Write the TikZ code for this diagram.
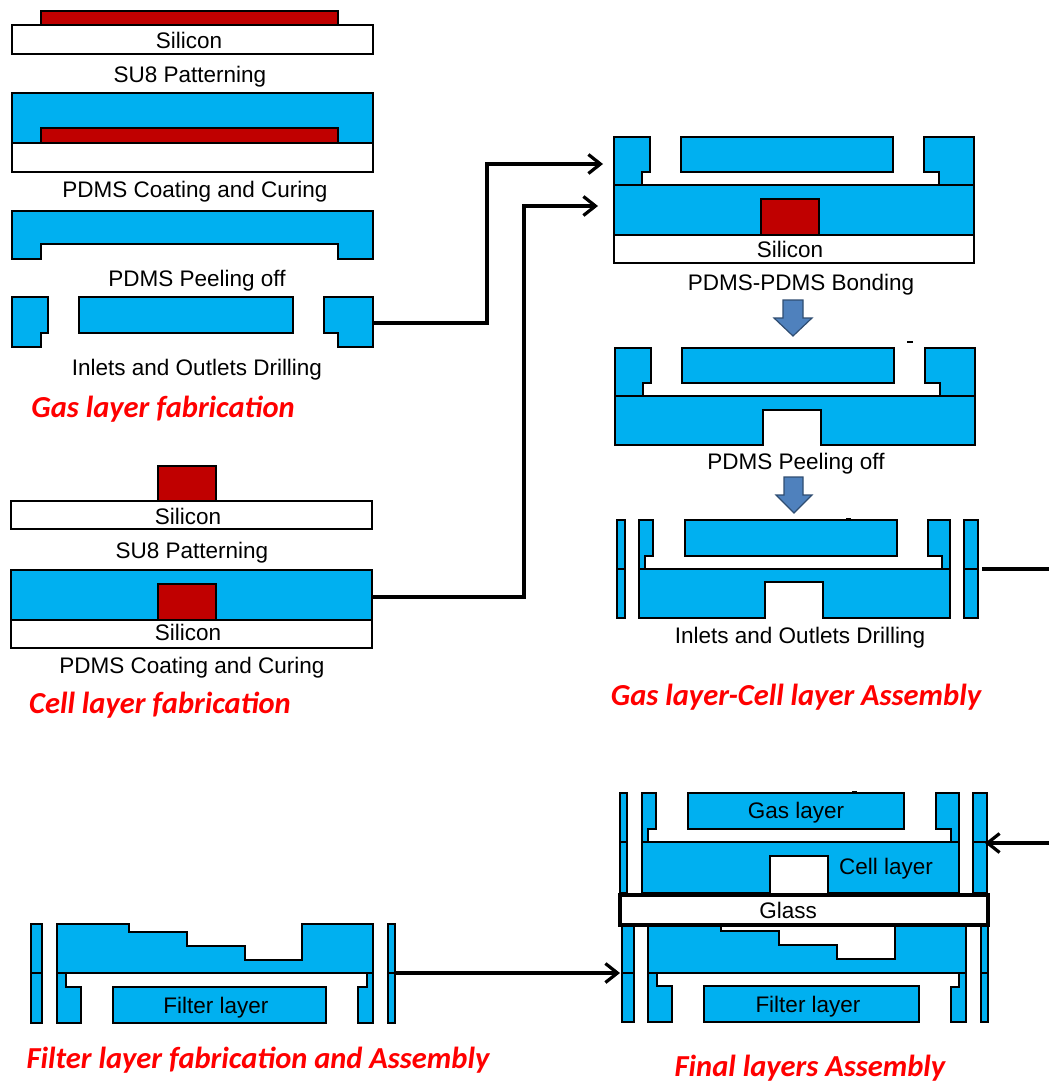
\documentclass[tikz,border=0pt]{standalone}
\usepackage{fontspec}
\setmainfont{Liberation Sans}
\newfontfamily\titlefont{Carlito}
\usetikzlibrary{arrows.meta}
\definecolor{pdmsblue}{HTML}{00B0F0}
\definecolor{sured}{HTML}{C00000}
\definecolor{blockblue}{HTML}{4F81BD}
\tikzset{
  pdms/.style={draw=black, fill=pdmsblue, line width=2.8pt, line join=miter},
  sueight/.style={draw=black, fill=sured, line width=2.8pt},
  wafer/.style={draw=black, fill=white, line width=2.8pt},
  divider/.style={draw=black, line width=2.2pt},
  caption/.style={font=\fontsize{22.5}{24}\selectfont, text=black, inner sep=0pt, yshift=-1.5pt},
  steptitle/.style={font=\titlefont\bfseries\itshape\fontsize{30.5}{32}\selectfont, text=red, inner sep=0pt, yshift=-1.5pt},
  connector/.style={draw=black, line width=3.2pt},
  tipped/.style={connector, -{Straight Barb[length=12pt,width=19pt,line width=3.2pt]}},
  blockarrow/.style={draw=blockblue!60!black, fill=blockblue, line width=1.2pt},
  speck/.style={draw=black, line width=1.6pt},
}
\begin{document}
\begin{tikzpicture}[x=1pt,y=-1pt]
\useasboundingbox (0,0) rectangle (1049,1084);

\draw[sueight] (41,11) rectangle (338,25);
\draw[wafer] (12,25) rectangle (373,54);
\node[caption] (silicona) at (189,39) {Silicon};
\node[caption] (patterninga) at (190,75) {SU8 Patterning};

\draw[pdms] (12,93) rectangle (373,143);
\draw[sueight] (41,128) rectangle (338,143);
\draw[wafer] (12,143) rectangle (373,172);
\node[caption] (coatinga) at (195,190) {PDMS Coating and Curing};

\draw[pdms] (12,211) -- (373,211) -- (373,259) -- (338,259) -- (338,244) -- (41,244) -- (41,259) -- (12,259) -- cycle;
\node[caption] (peelinga) at (197,279) {PDMS Peeling off};

\draw[pdms] (12,297) -- (48,297) -- (48,333) -- (41,333) -- (41,347) -- (12,347) -- cycle;
\draw[pdms] (79,297) rectangle (293,333);
\draw[pdms] (324,297) -- (373,297) -- (373,347) -- (338,347) -- (338,333) -- (324,333) -- cycle;
\node[caption] (drillinga) at (197,368) {Inlets and Outlets Drilling};
\node[steptitle] (gastitle) at (163,408) {Gas layer fabrication};

\draw[sueight] (158,466) rectangle (216,501);
\draw[wafer] (11,501) rectangle (372,529);
\node[caption] (siliconb) at (188,515) {Silicon};
\node[caption] (patterningb) at (192,551) {SU8 Patterning};

\draw[pdms] (11,570) rectangle (372,620);
\draw[sueight] (158,584) rectangle (216,620);
\draw[wafer] (11,620) rectangle (372,648);
\node[caption] (siliconc) at (188,631) {Silicon};
\node[caption] (coatingb) at (192,666) {PDMS Coating and Curing};
\node[steptitle] (celltitle) at (160,704) {Cell layer fabrication};

\draw[pdms] (614,137) -- (650,137) -- (650,172) -- (642,172) -- (642,185) -- (614,185) -- cycle;
\draw[pdms] (681,137) rectangle (893,172);
\draw[pdms] (924,137) -- (974,137) -- (974,185) -- (939,185) -- (939,172) -- (924,172) -- cycle;
\draw[pdms] (614,185) rectangle (974,235);
\draw[sueight] (761,199) rectangle (819,235);
\draw[wafer] (614,235) rectangle (974,263);
\node[caption] (silicond) at (790,248) {Silicon};
\node[caption] (bonding) at (801,283) {PDMS-PDMS Bonding};

\draw[blockarrow] (783,300) -- (803,300) -- (803,318) -- (812,318) -- (793,336) -- (774,318) -- (783,318) -- cycle;
\draw[speck] (907,342) -- (913,342);

\draw[pdms] (615,348) -- (651,348) -- (651,383) -- (643,383) -- (643,396) -- (615,396) -- cycle;
\draw[pdms] (682,348) rectangle (894,383);
\draw[pdms] (925,348) -- (975,348) -- (975,396) -- (940,396) -- (940,383) -- (925,383) -- cycle;
\draw[pdms] (615,396) -- (975,396) -- (975,445) -- (821,445) -- (821,410) -- (763,410) -- (763,445) -- (615,445) -- cycle;
\node[caption] (peelingb) at (796,462) {PDMS Peeling off};

\draw[blockarrow] (784,477) -- (803,477) -- (803,495) -- (812,495) -- (794,513) -- (776,495) -- (784,495) -- cycle;
\draw[speck] (846,518.5) -- (851,518.5);

\draw[pdms] (617,520) rectangle (625,618);
\draw[divider] (617,569) -- (625,569);
\draw[pdms] (639,520) -- (653,520) -- (653,556) -- (645,556) -- (645,569) -- (639,569) -- cycle;
\draw[pdms] (685,520) rectangle (897,556);
\draw[pdms] (928,520) -- (950,520) -- (950,569) -- (942,569) -- (942,556) -- (928,556) -- cycle;
\draw[pdms] (639,569) -- (950,569) -- (950,618) -- (823,618) -- (823,582) -- (765,582) -- (765,618) -- (639,618) -- cycle;
\draw[pdms] (964,520) rectangle (978,618);
\draw[divider] (964,569) -- (978,569);
\node[caption] (drillingb) at (800,636) {Inlets and Outlets Drilling};
\node[steptitle] (assemblytitle) at (796,696) {Gas layer-Cell layer Assembly};

\draw[pdms] (31,924) rectangle (42,1023);
\draw[divider] (31,973) -- (42,973);
\draw[pdms] (57,924) -- (129,924) -- (129,932) -- (187,932) -- (187,946) -- (245,946) -- (245,960) -- (302,960) -- (302,924) -- (373,924) -- (373,973) -- (57,973) -- cycle;
\draw[pdms] (57,973) -- (66,973) -- (66,987) -- (81,987) -- (81,1023) -- (57,1023) -- cycle;
\draw[pdms] (113,987) rectangle (326,1023);
\draw[pdms] (358,1023) -- (358,987) -- (367,987) -- (367,973) -- (373,973) -- (373,1023) -- cycle;
\draw[pdms] (388,924) rectangle (395,1023);
\draw[divider] (388,973) -- (395,973);
\node[caption] (filtera) at (216,1006) {Filter layer};
\node[steptitle] (filtertitle) at (258,1059) {Filter layer fabrication and Assembly};

\draw[speck] (852,791.5) -- (857,791.5);
\draw[pdms] (620,793) rectangle (627,893);
\draw[divider] (620,842) -- (627,842);
\draw[pdms] (642,793) -- (656,793) -- (656,829) -- (648,829) -- (648,842) -- (642,842) -- cycle;
\draw[pdms] (688,793) rectangle (904,829);
\draw[pdms] (936,793) -- (959,793) -- (959,842) -- (951,842) -- (951,829) -- (936,829) -- cycle;
\draw[pdms] (973,793) rectangle (987,893);
\draw[divider] (973,842) -- (987,842);
\draw[pdms] (642,842) -- (959,842) -- (959,893) -- (828,893) -- (828,856) -- (770,856) -- (770,893) -- (642,893) -- cycle;
\draw[pdms] (622,925) rectangle (634,1022);
\draw[divider] (622,973) -- (634,973);
\draw[pdms] (648,925) -- (721,925) -- (721,931) -- (779,931) -- (779,945) -- (837,945) -- (837,959) -- (895,959) -- (895,925) -- (966,925) -- (966,973) -- (648,973) -- cycle;
\draw[pdms] (648,973) -- (657,973) -- (657,986) -- (672,986) -- (672,1022) -- (648,1022) -- cycle;
\draw[pdms] (704,986) rectangle (919,1022);
\draw[pdms] (951,1022) -- (951,987) -- (959,987) -- (959,973) -- (966,973) -- (966,1022) -- cycle;
\draw[pdms] (981,925) rectangle (988,1022);
\draw[divider] (981,973) -- (988,973);
\draw[wafer, line width=3.8pt] (620,895) rectangle (988,925);
\node[caption] (gasfinal) at (796,811) {Gas layer};
\node[caption] (cellfinal) at (886,867) {Cell layer};
\node[caption] (glass) at (788,909) {Glass};
\node[caption] (filterb) at (808,1005) {Filter layer};
\node[steptitle] (finaltitle) at (810,1067) {Final layers Assembly};

\coordinate (gasout) at (373,323);
\coordinate (bondtop) at (603,164);
\coordinate (cellout) at (372,597);
\coordinate (bondlow) at (598,206);
\coordinate (stackout) at (982,569);
\coordinate (stackedge) at (1049,569);
\coordinate (stackback) at (1049,843);
\coordinate (finaltop) at (985,843);
\coordinate (filterout) at (395,973);
\coordinate (finallow) at (620,973);
\draw[tipped] (gasout) -| (487,164) -- (bondtop);
\draw[tipped] (cellout) -| (524,206) -- (bondlow);
\draw[connector] (stackout) -- (stackedge);
\draw[tipped] (stackback) -- (finaltop);
\draw[tipped] (filterout) -- (finallow);
\end{tikzpicture}
\end{document}
